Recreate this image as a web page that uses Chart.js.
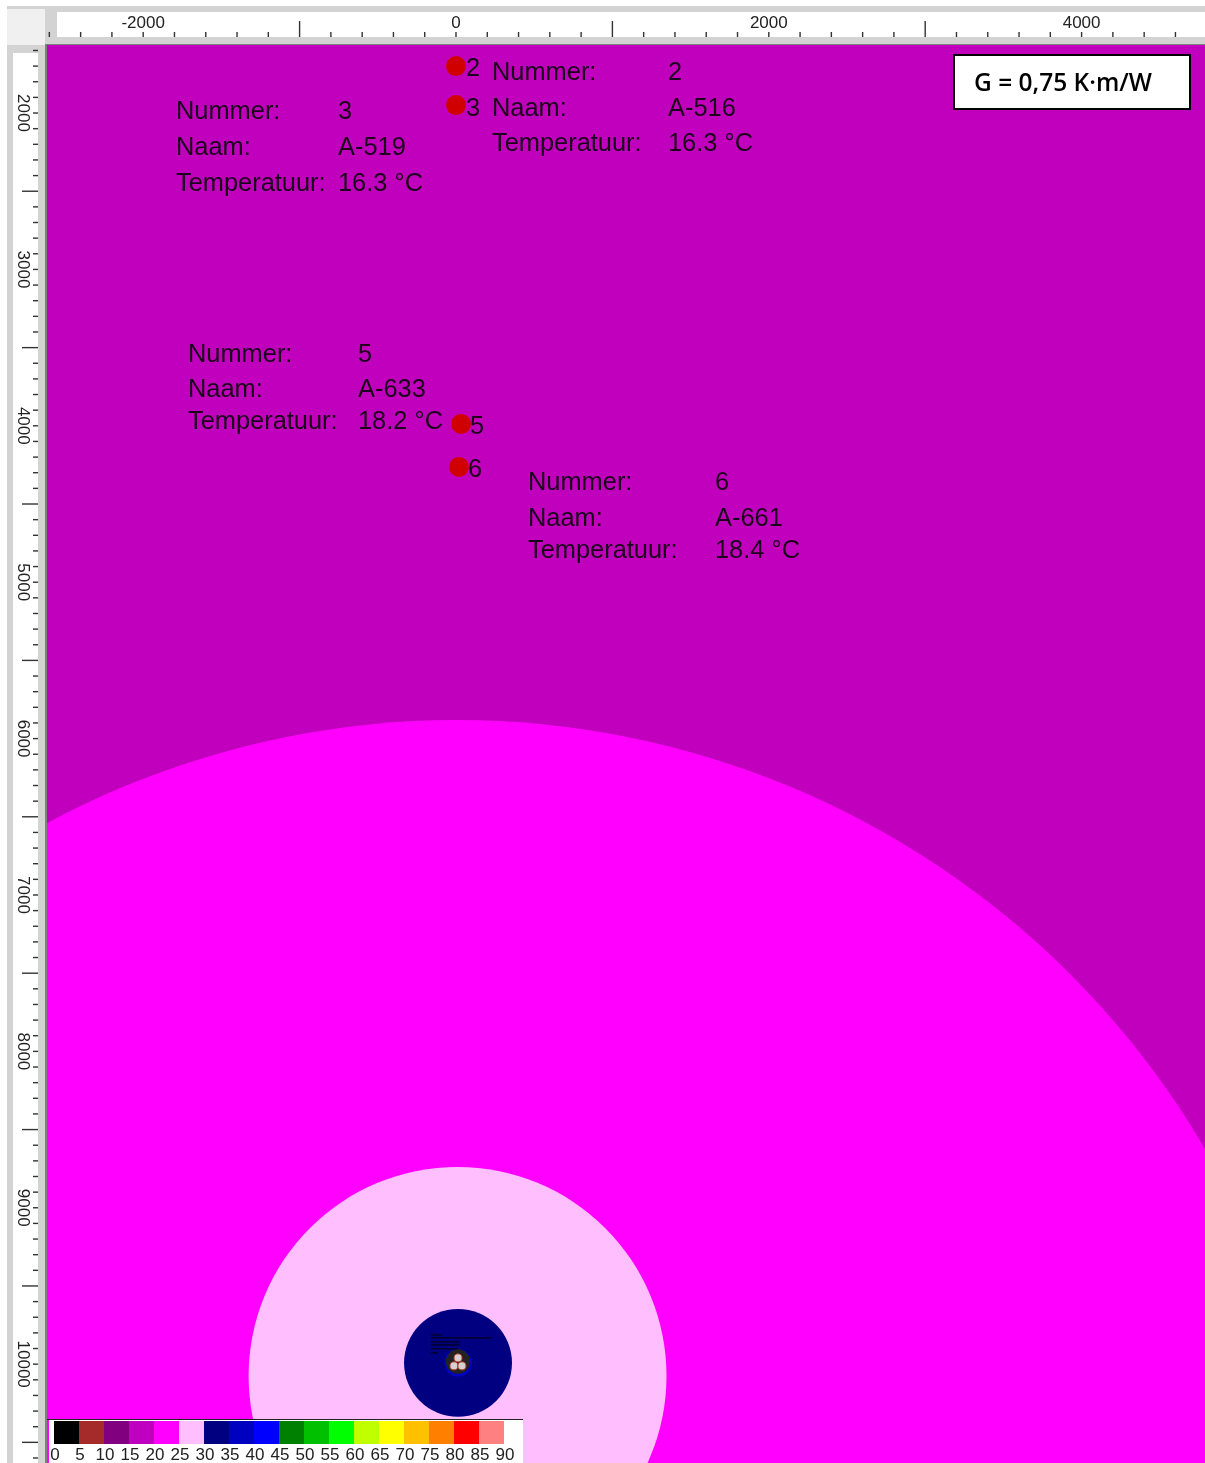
<!DOCTYPE html>
<html><head><meta charset="utf-8">
<style>html,body{margin:0;padding:0;background:#fff}canvas{display:block}</style>
<script src="https://cdn.jsdelivr.net/npm/chart.js@4"></script>
</head><body><canvas id="c" width="1205" height="1463"></canvas>
<script>
// zones (centre and radius in model units, outer to inner)
const zoneColors = ['#ff00ff','#ffbfff','#000080','#0000c0','#222222'];
const zoneX = [6,10,13,13,13];
const zoneY = [11425,10075,9992,9992,9983];
const zoneR = [5543,1336,345,88,78];
// cable conductors
const coreX = [13,-13,38];
const coreY = [9960,10011,10011];
const coreR = [26,26,26];
// sensors
const sensorNumbers = ['2','3','5','6'];
const sensorX = [0,0,32,19];
const sensorY = [1700,1949,3988,4263];
// text blocks
const blockNumbers = ['2','3','5','6'];
const blockNames = ['A-516','A-519','A-633','A-661'];
const blockTemps = ['16.3 °C','16.3 °C','18.2 °C','18.4 °C'];
const fieldNames = ['Nummer:','Naam:','Temperatuur:'];
// tiny drawing labels near cable
const markX = [-160,-90,null,-160,230,null,-160,25,null,-160,25,null,-160,13,null,-160,-115];
const markY = [9813,9813,null,9832,9832,null,9858,9858,null,9877,9877,null,9902,9902,null,9928,9928];
// colour scale
const scaleColors = ['#000000','#a52a2a','#800080','#c000c0','#ff00ff','#ffbfff','#000080','#0000c0','#0000ff','#008000','#00c000','#00ff00','#c0ff00','#ffff00','#ffc000','#ff8000','#ff0000','#ff8080'];
const scaleLabels = ['0','5','10','15','20','25','30','35','40','45','50','55','60','65','70','75','80','85','90'];
const caption = 'G = 0,75 K·m/W';

const XMIN=-2615, XMAX=4789, YMIN=1565, YMAX=10632;
const PX_PER_UNIT=(1205-47)/(XMAX-XMIN);
const FONT='"Liberation Sans", Arial, sans-serif';

function ticksEvery(scale,step){
  const out=[];
  for(let v=Math.ceil(scale.min/step)*step;v<=scale.max;v+=step) out.push({value:v});
  scale.ticks=out;
}
const zoneSets = zoneColors.map((col,i)=>({
  type:'bubble',
  data:[{x:zoneX[i],y:zoneY[i],r:zoneR[i]*PX_PER_UNIT}],
  backgroundColor:col,borderWidth:0,clip:0,order:20-i
}));
const coreSet = {
  type:'bubble',
  data:coreX.map((x,i)=>({x,y:coreY[i],r:coreR[i]*PX_PER_UNIT})),
  backgroundColor:'#d8d0d0',borderColor:'#a03020',borderWidth:1,clip:0,order:5
};
const markSet = {
  type:'scatter',showLine:true,spanGaps:false,tension:0.001,
  data:markX.map((x,i)=>({x,y:markY[i]})),
  borderColor:'#000',borderWidth:1,pointRadius:0,clip:0,order:4
};
const sensorSet = {
  type:'scatter',
  data:sensorX.map((x,i)=>({x,y:sensorY[i]})),
  backgroundColor:'#d00000',borderWidth:0,pointRadius:10,clip:0,order:1
};

const chrome = {
  id:'chrome',
  beforeDraw(ch){
    const c=ch.ctx;
    c.save();
    c.fillStyle='#fff';c.fillRect(0,0,1205,1463);
    c.fillStyle='#d3d3d3';
    c.fillRect(7,6,1198,39);
    c.fillRect(7,6,40,1457);
    c.fillStyle='#f0f0f0';c.fillRect(7,9,38,36);
    c.fillStyle='#fff';
    c.fillRect(57,12,1148,25);
    c.fillRect(13,53,25,1410);
    c.fillStyle='#808080';
    c.fillRect(45,44,1160,1);
    c.fillRect(45,44,2,1419);
    c.restore();
  },
  beforeDatasetsDraw(ch){
    const c=ch.ctx,sx=ch.scales.x,sy=ch.scales.y;
    c.save();
    c.fillStyle='#c000bc';
    c.fillRect(47,45,1158,1418);
    c.fillStyle='#333';
    sx.ticks.forEach(t=>{
      const p=sx.getPixelForValue(t.value);
      const long=((t.value%2000)+2000)%2000===1000;
      if(long) c.fillRect(p-0.7,21,1.4,16); else c.fillRect(p-0.7,32,1.4,5);
    });
    sy.ticks.forEach(t=>{
      const p=sy.getPixelForValue(t.value);
      const long=t.value%1000===500;
      if(long) c.fillRect(22,p-0.7,16,1.4); else c.fillRect(33,p-0.7,5,1.4);
    });
    c.restore();
  },
  afterDraw(ch){
    const c=ch.ctx;
    c.save();
    c.fillStyle='#1c001c';
    c.font='25.4px '+FONT;
    c.textBaseline='middle';
    const layout=[[492,668,[73,109,144]],[176,338,[112,148,184]],[188,358,[355,390,422]],[528,715,[483,519,551]]];
    layout.forEach((l,i)=>{
      const vals=[blockNumbers[i],blockNames[i],blockTemps[i]];
      l[2].forEach((y,j)=>{
        c.fillText(fieldNames[j],l[0],y);
        c.fillText(vals[j],l[1],y);
      });
    });
    const sx=ch.scales.x,sy=ch.scales.y;
    const off=[[10,3],[10,4],[9,3],[9,3]];
    sensorNumbers.forEach((n,i)=>{
      c.fillText(n,sx.getPixelForValue(sensorX[i])+off[i][0],sy.getPixelForValue(sensorY[i])+off[i][1]);
    });
    c.fillStyle='#fff';c.fillRect(953,54,238,56);
    c.strokeStyle='#000';c.lineWidth=2;c.strokeRect(954,55,236,54);
    c.fillStyle='#000';
    c.font='600 24.5px "Open Sans", sans-serif';
    c.fillText(caption,974,84);
    c.fillStyle='#fff';c.fillRect(49,1420,474,43);
    c.fillStyle='#222';c.fillRect(47,1419,476,1);
    scaleColors.forEach((col,i)=>{
      c.fillStyle=col;c.fillRect(54+i*25,1421,25,23);
    });
    c.fillStyle='#222';
    c.font='17px '+FONT;
    c.textAlign='center';
    scaleLabels.forEach((t,i)=>{c.fillText(t,55+i*25,1455);});
    c.restore();
  }
};

new Chart(document.getElementById('c'),{
  data:{datasets:[sensorSet,markSet,coreSet,...zoneSets]},
  plugins:[chrome],
  options:{
    responsive:false,animation:false,
    layout:{autoPadding:false,padding:0},
    plugins:{legend:{display:false},tooltip:{enabled:false},title:{display:false}},
    scales:{
      x:{
        type:'linear',position:'top',min:XMIN,max:XMAX,
        grid:{drawOnChartArea:false,drawTicks:true,tickLength:10,tickColor:'rgba(0,0,0,0)'},
        border:{display:false},
        ticks:{autoSkip:false,padding:1,maxRotation:0,minRotation:0,color:'#222',font:{family:FONT,size:17},
          callback:v=>(v%2000===0)?String(v):''},
        afterBuildTicks:s=>ticksEvery(s,200),
        afterFit:s=>{s.height=45;s.paddingLeft=0;s.paddingRight=0;s.paddingTop=0;s.paddingBottom=0;}
      },
      y:{
        type:'linear',position:'left',reverse:true,min:YMIN,max:YMAX,
        grid:{drawOnChartArea:false,drawTicks:true,tickLength:1,tickColor:'rgba(0,0,0,0)'},
        border:{display:false},
        ticks:{autoSkip:false,padding:0,minRotation:-90,maxRotation:-90,crossAlign:'center',color:'#222',font:{family:FONT,size:17},
          callback:v=>(v%1000===0)?String(v):''},
        afterBuildTicks:s=>ticksEvery(s,100),
        afterFit:s=>{s.width=47;s.paddingLeft=0;s.paddingRight=0;s.paddingTop=0;s.paddingBottom=0;}
      }
    }
  }
});
</script>
</body></html>
